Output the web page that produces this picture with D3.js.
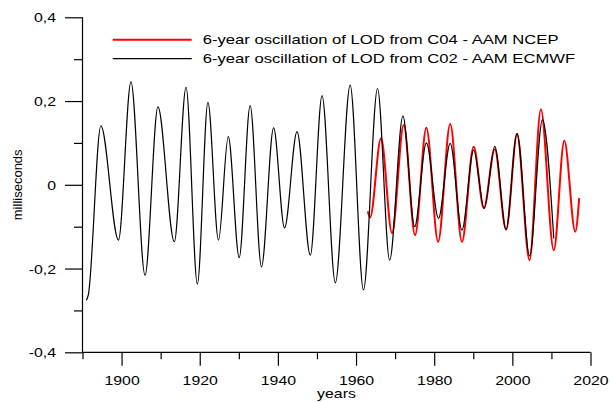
<!DOCTYPE html>
<html>
<head>
<meta charset="utf-8">
<script src="https://cdn.jsdelivr.net/npm/d3@7"></script>
<style>
  body { margin: 0; background: #fff; }
  svg { display: block; }
  text { font-family: "Liberation Sans", Arial, sans-serif; font-size: 13px; fill: #000; }
</style>
</head>
<body>
<div id="container"></div>
<script>
// series (year, milliseconds)
const blackYears = [1891.0, 1891.5, 1894.7, 1899.2, 1902.4, 1906.0, 1909.3, 1913.5, 1916.5, 1919.4,
  1922.1, 1924.8, 1927.3, 1930.1, 1932.9, 1935.8, 1938.9, 1941.7, 1944.9, 1948.3,
  1951.3, 1954.7, 1958.5, 1961.9, 1965.5, 1968.6, 1972.0, 1975.0, 1978.0, 1981.1,
  1984.1, 1987.1, 1990.1, 1992.8, 1995.5, 1998.4, 2001.2, 2004.4, 2007.7, 2010.6];
const blackValues = [-0.276, -0.262, 0.141, -0.132, 0.246, -0.216, 0.186, -0.136, 0.233, -0.237,
  0.197, -0.132, 0.115, -0.174, 0.189, -0.196, 0.136, -0.103, 0.127, -0.168,
  0.213, -0.234, 0.238, -0.251, 0.230, -0.180, 0.164, -0.100, 0.100, -0.080,
  0.099, -0.108, 0.083, -0.056, 0.092, -0.107, 0.123, -0.170, 0.155, -0.128];

const redYears = [1963.0, 1963.6, 1966.4, 1969.2, 1972.2, 1975.1, 1978.0, 1981.0, 1984.1, 1987.1,
  1990.1, 1992.7, 1995.5, 1998.4, 2001.2, 2004.4, 2007.3, 2010.6, 2013.3, 2016.1, 2017.1];
const redValues = [-0.064, -0.078, 0.111, -0.115, 0.143, -0.120, 0.136, -0.136, 0.145, -0.136,
  0.091, -0.056, 0.085, -0.107, 0.121, -0.180, 0.180, -0.156, 0.105, -0.112, -0.032];

const legendLabels = ["6-year oscillation of LOD from C04 - AAM NCEP",
                      "6-year oscillation of LOD from C02 - AAM ECMWF"];
const xMajorTicks = [1900, 1920, 1940, 1960, 1980, 2000, 2020];
const xMinorTicks = [1890, 1910, 1930, 1950, 1970, 1990, 2010];
const yMajorTicks = [-0.4, -0.2, 0, 0.2, 0.4];
const yMinorTicks = [-0.3, -0.1, 0.1, 0.3];

const width = 610;
const height = 402;
const stretchX = 1.22;   // the picture's lettering is wider than it is tall
const legendStretch = 1.28;

const svg = d3.select("#container").append("svg")
  .attr("width", width)
  .attr("height", height);

const x = d3.scaleLinear().domain([1890, 2020]).range([82.5, 590.5]);
const y = d3.scaleLinear().domain([-0.4, 0.4]).range([352.3, 17.3]);

const fmtY = d => d === 0 ? "0" : d3.format(".1f")(d).replace(".", ",").replace("−", "-");

// y axis: minor then major (major carries labels)
svg.append("g")
  .attr("transform", `translate(${x(1890)},0)`)
  .call(d3.axisLeft(y).tickValues(yMinorTicks).tickSize(8.5).tickFormat(""))
  .call(g => g.select(".domain").remove());
const yAxis = svg.append("g")
  .attr("transform", `translate(${x(1890)},0)`)
  .call(d3.axisLeft(y).tickValues(yMajorTicks).tickSize(17.5).tickFormat(fmtY));
yAxis.select(".domain").attr("d", `M0,${y(-0.4)}V${y(0.4)}`);
yAxis.selectAll(".tick text")
  .attr("x", null)
  .attr("dy", "0.36em")
  .attr("transform", `translate(-26.5,0) scale(${stretchX},1)`);

// x axis
svg.append("g")
  .attr("transform", `translate(0,${y(-0.4)})`)
  .call(d3.axisBottom(x).tickValues(xMinorTicks).tickSize(7).tickFormat(""))
  .call(g => g.select(".domain").remove());
const xAxis = svg.append("g")
  .attr("transform", `translate(0,${y(-0.4)})`)
  .call(d3.axisBottom(x).tickValues(xMajorTicks).tickSize(13.4).tickFormat(d3.format("d")));
xAxis.select(".domain").attr("d", `M${x(1890)},0H${x(2020)}`);
xAxis.selectAll(".tick text")
  .attr("y", null)
  .attr("dy", null)
  .attr("transform", `translate(0,32.7) scale(${stretchX},1)`);

svg.selectAll(".tick line, .domain").attr("stroke", "#000").attr("stroke-width", 1.2);
svg.selectAll(".tick text").attr("font-size", 13).attr("font-family", null).attr("fill", "#000");

// axis titles
svg.append("text")
  .attr("text-anchor", "middle")
  .attr("transform", `translate(${(x(1890) + x(2020)) / 2},398) scale(${stretchX},1)`)
  .text("years");
svg.append("text")
  .attr("text-anchor", "middle")
  .attr("font-size", 13.5)
  .attr("transform", `translate(21.5,${y(0)}) rotate(-90)`)
  .text("milliseconds");

// curves
const line = d3.line()
  .x(d => x(d[0]))
  .y(d => y(d[1]))
  .curve(d3.curveMonotoneX);

const redData = redYears.map((yr, i) => [yr, redValues[i]]);
const blackData = blackYears.map((yr, i) => [yr, blackValues[i]]);

svg.append("path")
  .datum(redData)
  .attr("d", line)
  .attr("fill", "none")
  .attr("stroke", "#ff0000")
  .attr("stroke-width", 2);
svg.append("path")
  .datum(blackData)
  .attr("d", line)
  .attr("fill", "none")
  .attr("stroke", "#000")
  .attr("stroke-width", 1.2);

// legend
const legend = svg.append("g");
const legendColors = ["#ff0000", "#000"];
const legendWidths = [2, 1.2];
legendLabels.forEach((label, i) => {
  const ly = 39.7 + i * 19;
  legend.append("line")
    .attr("x1", 112.7).attr("x2", 191.7)
    .attr("y1", ly).attr("y2", ly)
    .attr("stroke", legendColors[i])
    .attr("stroke-width", legendWidths[i]);
  legend.append("text")
    .attr("transform", `translate(202.7,${ly + 4.5}) scale(${legendStretch},1)`)
    .text(label);
});
</script>
</body>
</html>
